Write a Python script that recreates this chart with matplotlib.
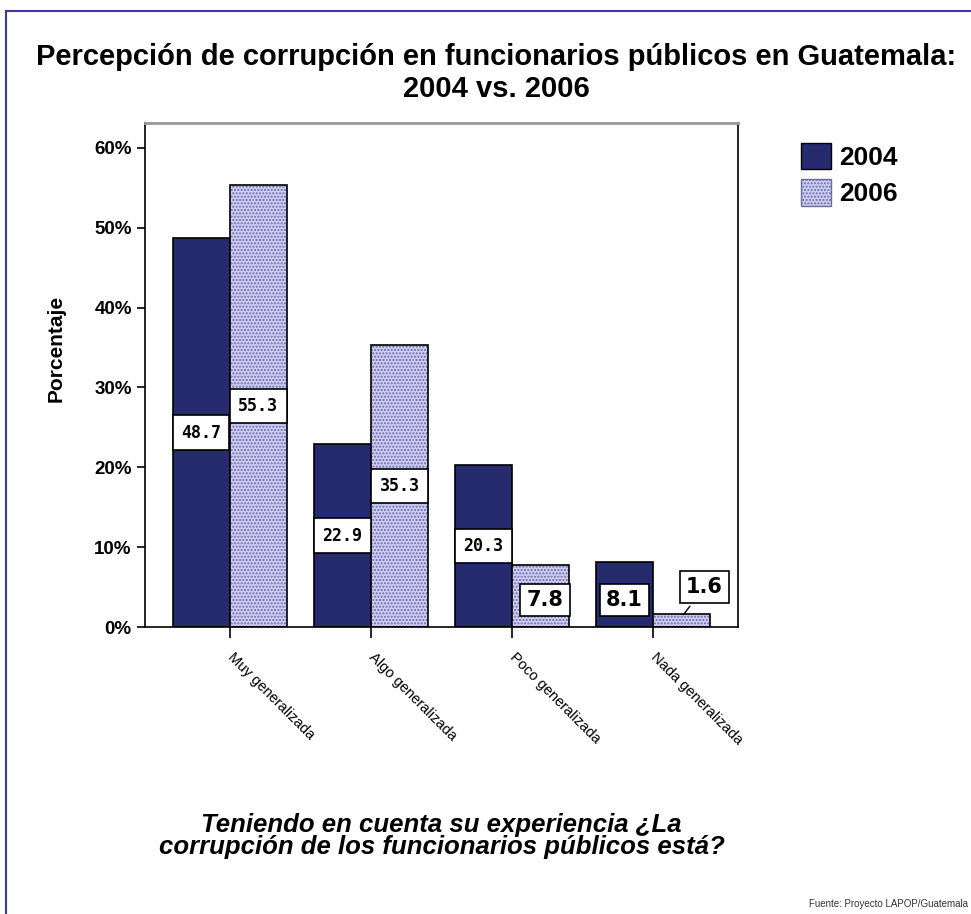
import numpy as np
import matplotlib
matplotlib.use('Agg')
import matplotlib.pyplot as plt
from matplotlib.patches import Patch
from matplotlib.lines import Line2D

# datos
categorias = ['Muy generalizada', 'Algo generalizada', 'Poco generalizada', 'Nada generalizada']
anios = ['2004', '2006']
v2004 = [48.7, 22.9, 20.3, 8.1]
v2006 = [55.3, 35.3, 7.8, 1.6]
yticks = [0, 10, 20, 30, 40, 50, 60]

plt.rcParams['font.family'] = ['Liberation Sans', 'DejaVu Sans']
plt.rcParams['hatch.linewidth'] = 1.0

azul = '#262a6e'
lila = '#ccccff'
trama = '#6e6e8e'

fig = plt.figure(figsize=(9.71, 9.14), dpi=100)
ax = fig.add_axes([0.1493, 0.314, 0.6107, 0.5514])

x = np.arange(len(categorias))
w = 0.405

ax.bar(x - w/2, v2004, w, color=azul, edgecolor='black', linewidth=1.2)
#barras 2006: trama gris y borde negro por separado
ax.bar(x + w/2, v2006, w, color=lila, edgecolor=trama, hatch='.....', linewidth=0)
ax.bar(x + w/2, v2006, w, fill=False, edgecolor='black', linewidth=1.2)

ax.set_xlim(-0.6, 3.6)
ax.set_ylim(0, 63.1)
ax.set_yticks(yticks)
ax.set_yticklabels([str(t) + '%' for t in yticks], fontsize=13.5, fontweight='bold')
ax.set_xticks(x)
ax.set_xticklabels(categorias, rotation=-45, rotation_mode='anchor', ha='left', va='center',
                   fontsize=10.5)
ax.tick_params(axis='x', length=8, width=1.2, pad=12)
ax.tick_params(axis='y', length=6, width=1.2)
ax.set_ylabel('Porcentaje', fontsize=15, fontweight='bold')
ax.yaxis.set_label_coords(-0.133, 0.553)

for s in ['left', 'bottom', 'right']:
    ax.spines[s].set_linewidth(1.2)
ax.spines['top'].set_color('#999999')
ax.spines['top'].set_linewidth(2)

# etiquetas de valores
caja = dict(boxstyle='square,pad=0.5', fc='white', ec='black', lw=1.2)
caja2 = dict(boxstyle='square,pad=0.3', fc='white', ec='black', lw=1.2)
for i in range(len(categorias)):
    for j, vals in enumerate([v2004, v2006]):
        v = vals[i]
        xc = x[i] + (j - 0.5) * w
        if v > 15:
            ax.text(xc, v / 2, '%.1f' % v, ha='center', va='center', fontsize=12,
                    fontweight='bold', family='DejaVu Sans Mono', bbox=caja)
        elif v > 5:
            ax.text(xc + 0.03 if j == 1 else xc, 3.4, '%.1f' % v, ha='center', va='center',
                    fontsize=15, fontweight='bold', family='DejaVu Sans', bbox=caja2)
        else:
            ax.annotate('%.1f' % v, xy=(xc, v * 0.8), xytext=(xc + 0.16, 5.0),
                        ha='center', va='center', fontsize=15, fontweight='bold',
                        family='DejaVu Sans', bbox=caja2,
                        arrowprops=dict(arrowstyle='-', color='black', lw=1))

handles = [Patch(facecolor=azul, edgecolor='black', label='2004'),
           Patch(facecolor=lila, edgecolor=trama, hatch='.....', label='2006')]
fig.legend(handles=handles, loc='upper left', bbox_to_anchor=(0.814, 0.855), frameon=False,
           prop={'size': 19, 'weight': 'bold'}, handlelength=1.15, handleheight=1.15,
           handletextpad=0.3, labelspacing=0.35, borderaxespad=0)

fig.text(0.511, 0.92, 'Percepción de corrupción en funcionarios públicos en Guatemala:\n2004 vs. 2006',
         ha='center', va='center', fontsize=21, fontweight='bold', linespacing=1.2)
fig.text(0.455, 0.0853, 'Teniendo en cuenta su experiencia ¿La\ncorrupción de los funcionarios públicos está?',
         ha='center', va='center', fontsize=18.5, fontweight='bold', style='italic',
         linespacing=0.9)
fig.text(0.997, 0.008, 'Fuente: Proyecto LAPOP/Guatemala', ha='right', fontsize=7,
         color='#333333')

# marco azul
fig.add_artist(Line2D([0.006, 1.0], [0.988, 0.988], color='#3a3a9a', lw=1.5))
fig.add_artist(Line2D([0.006, 0.006], [0.0, 0.988], color='#3a3a9a', lw=1.5))

fig.savefig('out.png', dpi=100)
